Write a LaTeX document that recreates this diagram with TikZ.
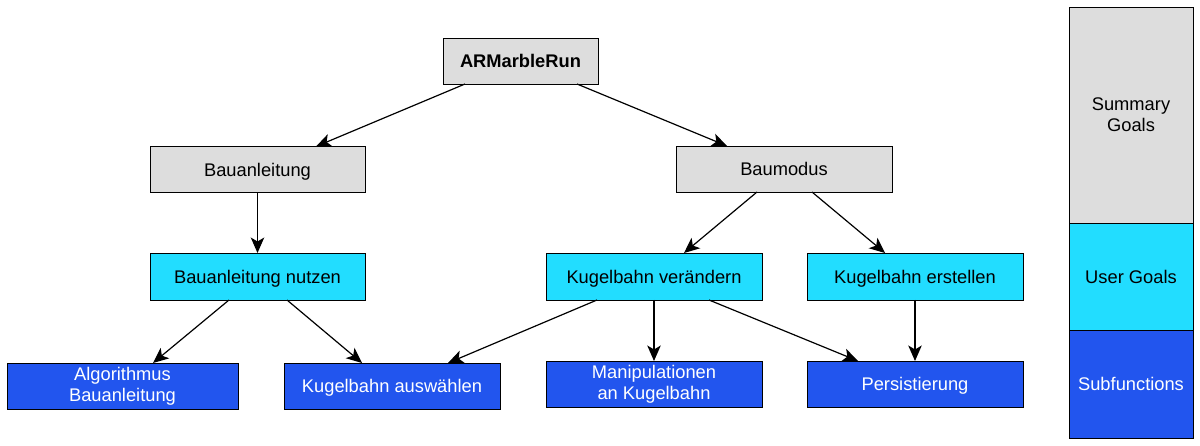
\documentclass[tikz,border=0pt]{standalone}
\usepackage{fontspec}
\setmainfont{Liberation Sans}
\usetikzlibrary{arrows.meta}
\definecolor{sumgray}{HTML}{DDDDDD}
\definecolor{usercyan}{HTML}{22DDFF}
\definecolor{subblue}{HTML}{2255EE}
\tikzset{
  box/.style={draw=black, line width=0.9pt, inner sep=0pt, outer sep=0pt, align=center,
    font=\fontsize{18.3}{21}\selectfont, minimum height=46pt},
  oneline/.style={text height=13.6pt, text depth=0pt},
  summ/.style={box, fill=sumgray, text=black},
  usr/.style={box, fill=usercyan, text=black},
  subf/.style={box, fill=subblue, text=white},
  conn/.style={draw=black, line width=1.2pt, -{Stealth[length=15.5pt,width=13.5pt,inset=4pt]}},
}
\begin{document}
\begin{tikzpicture}[x=1pt,y=-1pt]
\useasboundingbox (0,0) rectangle (1200,446);
% tree nodes
\node[summ, oneline, minimum width=155pt, font=\fontsize{18.3}{21}\selectfont\bfseries] (root) at (520.5,61) {ARMarbleRun};
\node[summ, oneline, minimum width=215pt] (bauan) at (257.5,169.5) {Bauanleitung};
\node[summ, oneline, minimum width=216pt] (baumod) at (784,169) {Baumodus};
\node[usr, oneline, minimum width=215pt, minimum height=47pt] (nutzen) at (257.5,276.5) {Bauanleitung nutzen};
\node[usr, oneline, minimum width=216pt, minimum height=47pt] (veraend) at (654,276.5) {Kugelbahn verändern};
\node[usr, oneline, minimum width=216pt, minimum height=47pt] (erst) at (915,276.5) {Kugelbahn erstellen};
\node[subf, minimum width=231pt] (algo) at (122.5,386) {Algorithmus\\Bauanleitung};
\node[subf, oneline, minimum width=216pt] (ausw) at (392,386) {Kugelbahn auswählen};
\node[subf, minimum width=216pt] (manip) at (654,384) {Manipulationen\\an Kugelbahn};
\node[subf, oneline, minimum width=216pt] (pers) at (915,384) {Persistierung};
% connectors
\draw[conn] ([xshift=-55.5pt]root.south) -- ([xshift=58.5pt]bauan.north);
\draw[conn] ([xshift=56.5pt]root.south) -- ([xshift=-57pt]baumod.north);
\draw[conn] (bauan.south) -- (nutzen.north);
\draw[conn] ([xshift=-27pt]baumod.south) -- ([xshift=30pt]veraend.north);
\draw[conn] ([xshift=28pt]baumod.south) -- ([xshift=-30pt]erst.north);
\draw[conn] ([xshift=-28.5pt]nutzen.south) -- ([xshift=30.5pt]algo.north);
\draw[conn] ([xshift=29.5pt]nutzen.south) -- ([xshift=-30pt]ausw.north);
\draw[conn] ([xshift=-57pt]veraend.south) -- ([xshift=56pt]ausw.north);
\draw[conn] (veraend.south) -- (manip.north);
\draw[conn] ([xshift=55pt]veraend.south) -- ([xshift=-57pt]pers.north);
\draw[conn] (erst.south) -- (pers.north);
% legend
\node[summ, minimum width=124pt, minimum height=216pt] (lsum) at (1131,115) {Summary\\Goals};
\node[usr, oneline, minimum width=124pt, minimum height=107pt] (luser) at (1131,276.5) {User Goals};
\node[subf, oneline, minimum width=124pt, minimum height=108pt] (lsub) at (1131,384) {Subfunctions};
\end{tikzpicture}
\end{document}
